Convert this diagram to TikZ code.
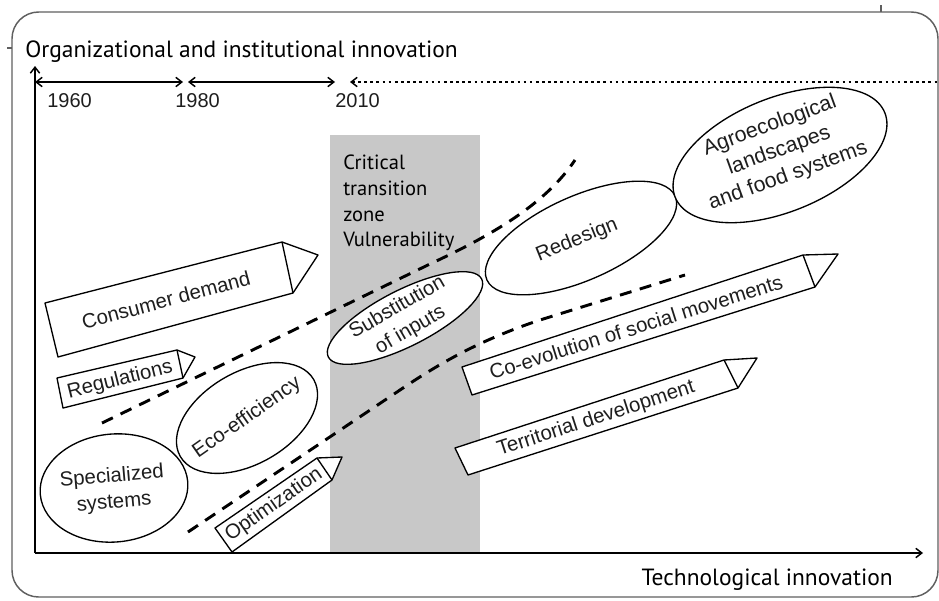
\documentclass[tikz,border=0pt]{standalone}
\usepackage{fontspec}
\setmainfont{Liberation Sans}
\newfontfamily\myriad{PT Sans}
\usetikzlibrary{arrows.meta}
\definecolor{zonegray}{RGB}{200,200,200}
\definecolor{framegray}{RGB}{95,95,95}
\definecolor{ink}{RGB}{30,30,30}
\tikzset{barb/.tip={Straight Barb[length=4.5pt,width=7pt]}}
\begin{document}
\begin{tikzpicture}[x=0.75pt,y=-0.75pt,
  lab/.style={font=\fontsize{15.3}{19.5}\selectfont, text=ink, inner sep=0pt, align=center},
  head/.style={font=\myriad\fontsize{17.6}{21}\selectfont, inner sep=0pt},
  zonetext/.style={font=\myriad\fontsize{15.4}{19.2}\selectfont, inner sep=0pt, align=left},
  year/.style={font=\fontsize{15}{18}\selectfont, text=ink, inner sep=0pt},
  axisline/.style={line width=1.1pt, -{barb}},
  tline/.style={line width=1.1pt},
  shapeline/.style={draw=black, line width=1pt, fill=white, line join=round},
  trend/.style={line width=2.2pt, dash pattern=on 9pt off 6.5pt},
  framebox/.style={draw=framegray, line width=1.1pt, rounded corners=20pt}]
\useasboundingbox (0,0) rectangle (939,600);
% outer frame
\draw[framebox] (12,12) rectangle (938,597);
\draw[draw=framegray, line width=0.8pt] (881,5) -- (881,12);
\draw[draw=framegray, line width=0.8pt] (7,48) -- (12,48);
% critical zone
\fill[zonegray] (330,135) rectangle (480,553);
\node[zonetext, anchor=north west] (zone) at (343,155) {Critical\\transition\\zone\\Vulnerability};
% axes
\coordinate (O) at (35,553);
\coordinate (Ytop) at (35,66);
\coordinate (Xend) at (923,553);
\draw[axisline] (O) -- (Ytop);
\draw[axisline] (O) -- (Xend);
\node[head, anchor=base west] (ylab) at (25,57) {Organizational and institutional innovation};
\node[head, anchor=base east] (xlab) at (893,585) {Technological innovation};
% timeline
\coordinate (t0) at (35,82);
\coordinate (t1) at (183,82);
\coordinate (t2) at (188,82);
\coordinate (t3) at (335,82);
\coordinate (t4) at (350,82);
\coordinate (t5) at (937,82);
\draw[tline, {barb}-{barb}] (t0) -- (t1);
\draw[tline, {barb}-{barb}] (t2) -- (t3);
\draw[tline, dash pattern=on 2pt off 2.6pt, {barb}-] (t4) -- (t5);
\node[year, anchor=base west] (y1960) at (47,107) {1960};
\node[year, anchor=base west] (y1980) at (175,107) {1980};
\node[year, anchor=base west] (y2010) at (335,107) {2010};
% trend lines
\draw[trend] (102,423) -- (430,264) .. controls (490,236) and (545,205) .. (575,160);
\draw[trend] (188,532) -- (400,390) .. controls (440,363) and (480,340) .. (540,320) -- (685,275);
% arrow boxes
\draw[shapeline] (58,357) -- (45,303) -- (282,242) -- (318,255) -- (293,293) -- cycle;
\draw[line width=1pt] (282,242) -- (293,293);
\node[lab, rotate=15] (consumer) at (166,300) {Consumer demand};
\draw[shapeline] (63,408) -- (57,378) -- (177,350) -- (195,357) -- (183,378) -- cycle;
\draw[line width=1pt] (177,350) -- (183,378);
\node[lab, rotate=14] (regul) at (120,380) {Regulations};
\draw[shapeline] (232,552) -- (215,528) -- (317,458) -- (342,457) -- (332,480) -- cycle;
\draw[line width=1pt] (317,458) -- (332,480);
\node[lab, rotate=35] (optim) at (274,505) {Optimization};
\draw[shapeline] (472,395) -- (462,367) -- (803,255) -- (838,254) -- (815,287) -- cycle;
\draw[line width=1pt] (803,255) -- (815,287);
\node[lab, rotate=17.5] (coevo) at (636,327) {Co-evolution of social movements};
\draw[shapeline] (468,475) -- (455,448) -- (724,360) -- (757,358) -- (738,388) -- cycle;
\draw[line width=1pt] (724,360) -- (738,388);
\node[lab, rotate=18] (territ) at (596,419) {Territorial development};
% ellipses
\draw[shapeline, rotate around={5:(114,488)}] (114,488) ellipse [x radius=74, y radius=54];
\node[lab, rotate=5] (spec) at (113,490) {Specialized\\systems};
\draw[shapeline, rotate around={30:(247,418)}] (247,418) ellipse [x radius=77, y radius=46];
\node[lab, rotate=35] (eco) at (247,418) {Eco-efficiency};
\draw[shapeline, rotate around={27:(405,318)}] (405,318) ellipse [x radius=86, y radius=28];
\node[lab, rotate=30] (subst) at (404,319) {Substitution\\of inputs};
\draw[shapeline, rotate around={24:(581,238)}] (581,238) ellipse [x radius=103, y radius=42];
\node[lab, rotate=22] (redes) at (577,240) {Redesign};
\draw[shapeline, rotate around={22:(780,155)}] (780,155) ellipse [x radius=113, y radius=57];
\node[lab, rotate=20, font=\fontsize{16}{20}\selectfont] (agro) at (779,151) {Agroecological\\landscapes\\and food systems};
\end{tikzpicture}
\end{document}
